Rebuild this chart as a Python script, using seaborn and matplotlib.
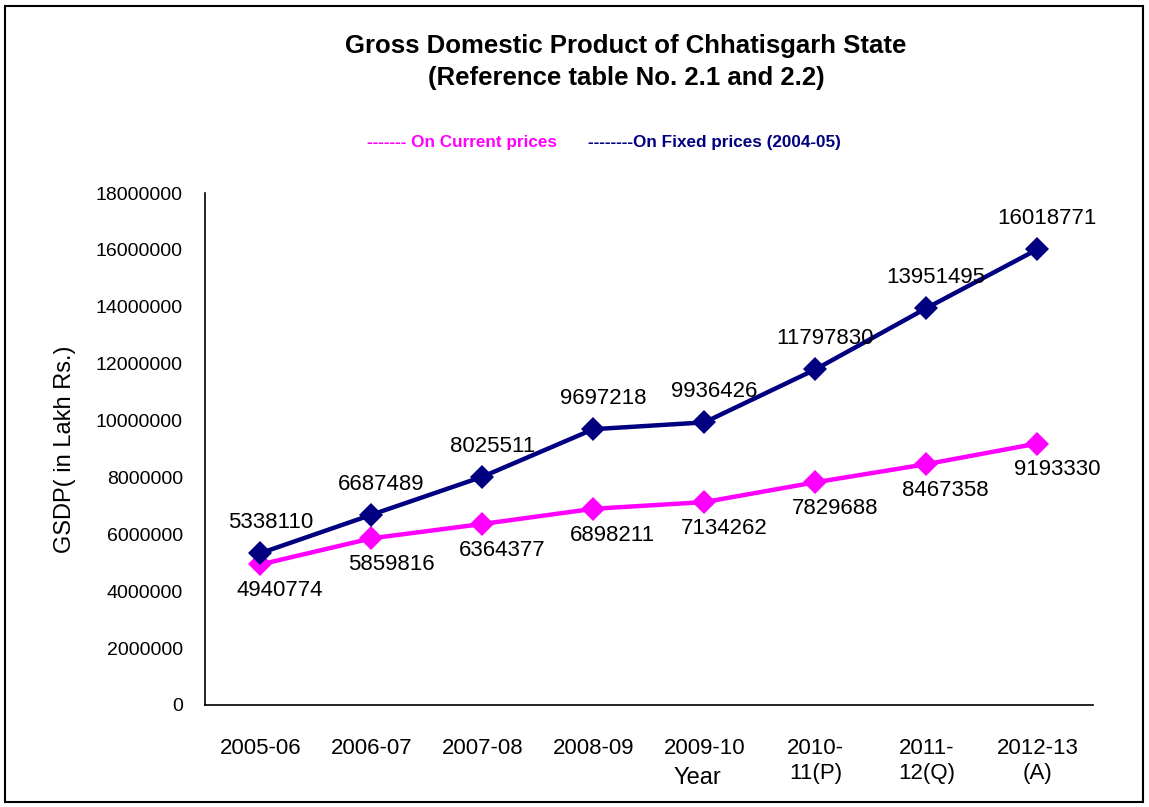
import pandas as pd
import seaborn as sns
import matplotlib.pyplot as plt
from matplotlib.patches import Rectangle

years = ['2005-06', '2006-07', '2007-08', '2008-09', '2009-10',
         '2010-\n11(P)', '2011-\n12(Q)', '2012-13\n(A)']
current_prices = [4940774, 5859816, 6364377, 6898211, 7134262, 7829688, 8467358, 9193330]
fixed_prices = [5338110, 6687489, 8025511, 9697218, 9936426, 11797830, 13951495, 16018771]

cur_name = '------- On Current prices'
fix_name = '--------On Fixed prices (2004-05)'

df = pd.DataFrame({'Year': years, cur_name: current_prices, fix_name: fixed_prices})
df_long = df.melt(id_vars='Year', var_name='series', value_name='GSDP')

sns.set_style('white')
plt.rcParams['font.family'] = ['Liberation Sans', 'DejaVu Sans']
plt.rcParams['text.color'] = 'black'
plt.rcParams['axes.labelcolor'] = 'black'
plt.rcParams['xtick.color'] = 'black'
plt.rcParams['ytick.color'] = 'black'

fig = plt.figure(figsize=(11.49, 8.07), dpi=100)
ax = fig.add_axes([0.1784, 0.1264, 0.7727, 0.6344])

colors = {cur_name: '#ff00ff', fix_name: '#000080'}
sns.lineplot(data=df_long, x='Year', y='GSDP', hue='series', palette=colors,
             marker='D', markersize=12, markeredgewidth=0, linewidth=3.2,
             sort=False, ax=ax)

# data labels
for i, v in enumerate(fixed_prices):
    ax.annotate(str(v), (i, v), xytext=(7, 22), textcoords='offset points',
                ha='center', va='center', fontsize=16)
for i, v in enumerate(current_prices):
    ax.annotate(str(v), (i, v), xytext=(14, -19), textcoords='offset points',
                ha='center', va='center', fontsize=16)

ax.set_xlim(-0.5, 7.5)
ax.set_ylim(0, 18000000)
ax.set_yticks(range(0, 18000001, 2000000))
ax.set_yticklabels([str(t) for t in range(0, 18000001, 2000000)], fontsize=14)
ax.set_xticks(range(len(years)))
ax.set_xticklabels(years, fontsize=16, linespacing=1.2)
ax.set_xticks([x - 0.5 for x in range(len(years) + 1)], minor=True)
ax.tick_params(axis='x', which='major', length=0, pad=24)
ax.tick_params(axis='x', which='minor', length=7, color='#888888')
ax.tick_params(axis='y', length=6, color='#888888', pad=10)

ax.set_xlabel('')
ax.set_ylabel('GSDP( in Lakh Rs.)', fontsize=17, labelpad=14)
for s in ['top', 'right']:
    ax.spines[s].set_visible(False)
for s in ['left', 'bottom']:
    ax.spines[s].set_color('black')
    ax.spines[s].set_linewidth(1.2)

fig.text(697 / 1149, 1 - 778 / 807, 'Year', fontsize=17, ha='center', va='center')

fig.text(626 / 1149, 1 - 62 / 807,
         'Gross Domestic Product of Chhatisgarh State\n(Reference table No. 2.1 and 2.2)',
         ha='center', va='center', fontsize=18.5, fontweight='bold', linespacing=1.4)

leg = ax.legend(loc='center', bbox_to_anchor=(604 / 1149, 1 - 142 / 807),
                bbox_transform=fig.transFigure, ncol=2, frameon=False,
                handlelength=0, handletextpad=0, columnspacing=1.8,
                labelcolor='linecolor', prop={'weight': 'bold', 'size': 12.3})
for h in leg.legend_handles:
    h.set_visible(False)

fig.patches.append(Rectangle((5 / 1149, 5 / 807), 1 - 11 / 1149, 1 - 11 / 807,
                             transform=fig.transFigure, fill=False,
                             edgecolor='black', linewidth=1.5))

fig.savefig('out.png', dpi=100)
